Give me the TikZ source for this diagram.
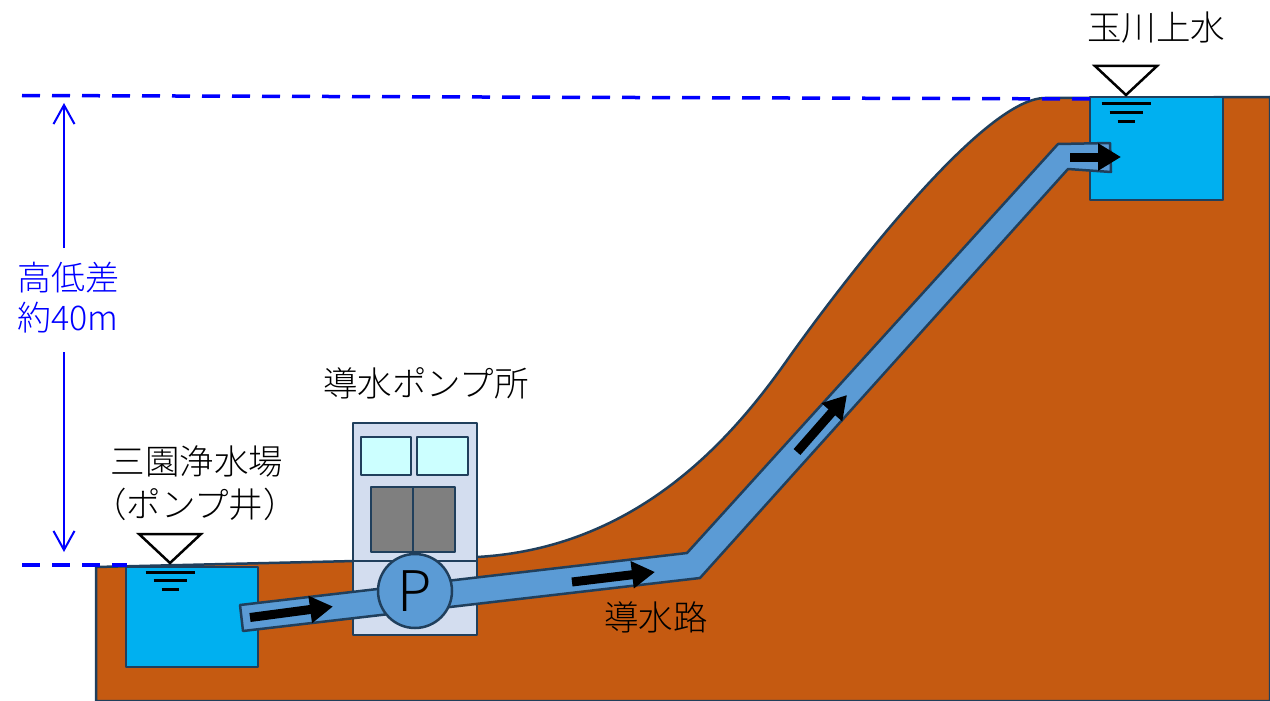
\documentclass[tikz,border=0pt]{standalone}
\usepackage{fontspec}
\newfontfamily\jp{Noto Sans CJK JP}[UprightFont={* Light}]
\usetikzlibrary{arrows.meta}
\definecolor{soil}{HTML}{C55A11}
\definecolor{edge}{HTML}{203F5C}
\definecolor{pipe}{HTML}{5B9BD5}
\definecolor{water}{HTML}{00B0F0}
\definecolor{house}{HTML}{D3DDEF}
\definecolor{glass}{HTML}{CCFFFF}
\definecolor{door}{HTML}{7F7F7F}
\definecolor{level}{HTML}{0000FF}
\tikzset{
  outline/.style={draw=edge, line width=2.5pt, line join=round},
  flow/.style={line width=9pt, -{Triangle[length=23pt,width=26pt]}},
  lbl/.style={font=\jp\fontsize{34.5}{40}\selectfont, inner sep=0pt, align=center},
  datum/.style={level, line width=3.5pt, dash pattern=on 18pt off 12pt},
  harrow/.style={level, line width=2pt, -{Straight Barb[length=19pt,width=21pt]}},
  wlevel/.pic={
    \draw[fill=white, draw=black, line width=2.5pt, line join=miter]
      (-31,-29) -- (31,-29) -- (0,0) -- cycle;
    \draw[black, line width=3pt] (-24.5,9) -- (24.5,9)
      (-16.5,17.5) -- (16.5,17.5) (-8.5,26) -- (8.5,26);
  }
}
\begin{document}
\begin{tikzpicture}[x=1pt, y=-1pt]
\useasboundingbox (0,0) rectangle (1270,701);

% ground with the hill
\filldraw[fill=soil, outline]
  (96,701) -- (96,567) -- (355,561) -- (477,557)
  .. controls (640,548) and (735,435) .. (790,356)
  .. controls (830,300) and (980,98) .. (1045,98)
  -- (1270,97) -- (1270,701) -- cycle;

% reservoirs
\filldraw[fill=water, outline] (126,567) rectangle (258,667);
\filldraw[fill=water, outline] (1090,97) rectangle (1223,200);

% pump house
\filldraw[fill=house, outline] (353,423) rectangle (477,635);
\draw[outline] (353,561) -- (477,561);
\filldraw[fill=glass, outline] (361,437) rectangle (411,475);
\filldraw[fill=glass, outline] (417,437) rectangle (468,475);
\filldraw[fill=door, outline] (371,487) rectangle (455,552);
\draw[outline] (413,487) -- (413,552);

% conduit
\filldraw[fill=pipe, outline]
  (240,605) -- (687,553) -- (1058,144) -- (1110,143) -- (1111,172)
  -- (1068,169) -- (700,578) -- (243,631) -- cycle;

% pump
\node[circle, minimum size=74pt, inner sep=0pt, fill=pipe, outline,
      font=\jp\fontsize{56}{60}\selectfont] (pump) at (415,591) {P};

% flow arrows
\coordinate (f1a) at (250,617.5); \coordinate (f1b) at (333,606.5);
\coordinate (f2a) at (572,582);   \coordinate (f2b) at (655,572);
\coordinate (f3a) at (797,452);   \coordinate (f3b) at (847,395);
\coordinate (f4a) at (1070,157);  \coordinate (f4b) at (1121,157);
\draw[flow] (f1a) -- (f1b);
\draw[flow] (f2a) -- (f2b);
\draw[flow] (f3a) -- (f3b);
\draw[flow] (f4a) -- (f4b);

% water surface marks
\pic at (170,563) {wlevel};
\pic at (1126,95) {wlevel};

% datum lines and height difference
\coordinate (dTopL) at (22,95.5);   \coordinate (dTopR) at (1095,99);
\coordinate (dBotL) at (22,565);    \coordinate (dBotR) at (127,565);
\draw[datum] (dTopL) -- (dTopR);
\draw[datum] (dBotL) -- (dBotR);
\node[lbl, text=level, font=\jp\fontsize{34}{40}\selectfont] (diff) at (68,298) {高低差\\約40m};
\coordinate (hTop) at (64,103);  \coordinate (hUp) at (64,248);
\coordinate (hBot) at (64,552);  \coordinate (hLow) at (64,352);
\draw[harrow] (hUp) -- (hTop);
\draw[harrow] (hLow) -- (hBot);

% labels
\node[lbl] (tama) at (1156,28) {玉川上水};
\node[lbl] (pstation) at (426,383) {導水ポンプ所};
\node[lbl] (misono) at (197,461) {三園浄水場};
\node[lbl] (well) at (195,504) {（ポンプ井）};
\node[lbl] (conduit) at (656,617) {導水路};
\end{tikzpicture}
\end{document}
